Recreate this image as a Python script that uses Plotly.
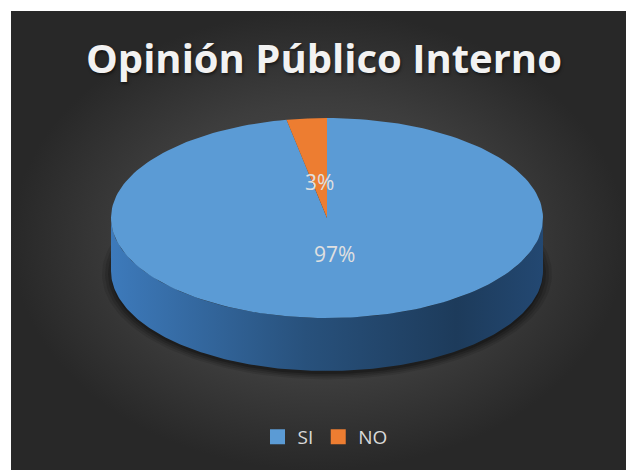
import numpy as np
import plotly.graph_objects as go

# ---- data ----
categories = ["SI", "NO"]
values = [97, 3]
slice_colors = ["#5B9BD5", "#ED7D31"]
label_texts = ["97%", "3%"]
title_text = "Opinión Público Interno"

# ---- geometry (pixel space) ----
W, H = 630, 470
PX0, PX1, PY0, PY1 = 11, 626, 11, 470
cx, cy, a, b, depth = 327, 218, 216, 100, 53
FONT = "Open Sans"


def arc(t0, t1, n=200, dy=0.0, da=0.0, db=0.0):
    t = np.radians(np.linspace(t0, t1, n))
    return (cx + (a + da) * np.sin(t)).tolist(), (cy - (b + db) * np.cos(t) + dy).tolist()


fig = go.Figure()

# background panel with radial gradient
fig.add_trace(go.Scatter(
    x=[PX0, PX1, PX1, PX0, PX0], y=[PY0, PY0, PY1, PY1, PY0],
    mode="lines", line=dict(width=0), fill="toself",
    fillgradient=dict(type="radial", colorscale=[[0, "#525252"], [0.6, "#3d3d3d"], [1, "#282828"]]),
    hoverinfo="skip", showlegend=False))

# soft shadow under the pie
for k, op in enumerate([0.10, 0.13, 0.17, 0.22]):
    grow = 9 - 3 * k
    xs, ys = arc(0, 360, 200, dy=depth + 3, da=grow, db=grow * 0.6)
    fig.add_trace(go.Scatter(x=xs, y=ys, mode="lines", line=dict(width=0), fill="toself",
                             fillcolor=f"rgba(0,0,0,{op})", hoverinfo="skip", showlegend=False))

total = float(sum(values))
angles = np.cumsum([0.0] + [v / total * 360.0 for v in values])

side_scales = {
    0: [[0, "#3d7abb"], [0.45, "#28517c"], [0.8, "#1d3b5b"], [1, "#234872"]],
    1: [[0, "#c0611f"], [1, "#8a4314"]],
}

# side walls (front half only: 90..270 deg, clockwise from top)
for i, v in enumerate(values):
    s, e = angles[i], angles[i + 1]
    s2, e2 = max(s, 90), min(e, 270)
    if e2 <= s2:
        continue
    xt, yt = arc(s2, e2)
    xb, yb = arc(e2, s2, dy=depth)
    fig.add_trace(go.Scatter(
        x=xt + xb + [xt[0]], y=yt + yb + [yt[0]], mode="lines", line=dict(width=0), fill="toself",
        fillgradient=dict(type="horizontal", colorscale=side_scales[i], start=cx - a, stop=cx + a),
        hoverinfo="skip", showlegend=False))

# top faces
for i, v in enumerate(values):
    s, e = angles[i], angles[i + 1]
    xs, ys = arc(s, e)
    fig.add_trace(go.Scatter(
        x=[cx] + xs + [cx], y=[cy] + ys + [cy], mode="lines", line=dict(width=0),
        fill="toself", fillcolor=slice_colors[i], hoverinfo="skip", showlegend=False))

# data labels
for i, v in enumerate(values):
    mid = np.radians((angles[i] + angles[i + 1]) / 2)
    f = 0.36
    fig.add_annotation(x=cx + a * f * np.sin(mid), y=cy - b * f * np.cos(mid), text=label_texts[i],
                       showarrow=False, font=dict(family=FONT, size=21, color="#e0e0e0"))

# legend entries
for i, c in enumerate(categories):
    fig.add_trace(go.Scatter(x=[None], y=[None], mode="markers", name=c,
                             marker=dict(symbol="square", size=15, color=slice_colors[i])))

# title
fig.add_annotation(x=324, y=57, text=title_text, showarrow=False,
                   font=dict(family=FONT, size=40, weight="bold", color="#f2f2f2",
                             shadow="1px 2px 3px rgba(0,0,0,0.5)"))

fig.update_layout(
    width=W, height=H, margin=dict(l=PX0, r=W - PX1, t=PY0, b=H - PY1, pad=0),
    paper_bgcolor="white", plot_bgcolor="#333333",
    xaxis=dict(range=[PX0, PX1], visible=False, fixedrange=True),
    yaxis=dict(range=[PY1, PY0], visible=False, fixedrange=True),
    showlegend=True,
    legend=dict(orientation="h", x=(325 - PX0) / (PX1 - PX0), xanchor="center",
                y=1 - (437 - PY0) / (PY1 - PY0), yanchor="middle",
                font=dict(family=FONT, size=19, color="#d9d9d9"), bgcolor="rgba(0,0,0,0)",
                itemwidth=30, traceorder="normal"),
)

fig.write_html("out.html")
